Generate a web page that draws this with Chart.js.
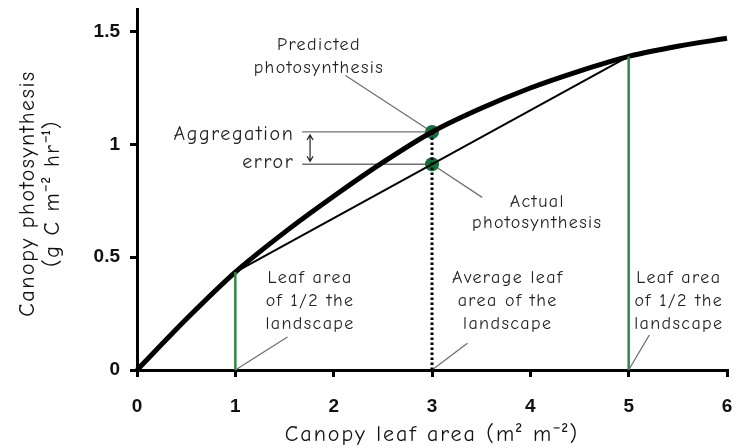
<!DOCTYPE html>
<html>
<head>
<meta charset="utf-8">
<script src="https://cdn.jsdelivr.net/npm/chart.js@4"></script>
<style>
  html, body { margin: 0; background: #fff; }
  #wrap { width: 741px; height: 448px; }
</style>
</head>
<body>
<div id="wrap"><canvas id="chart"></canvas></div>
<script>
// values
const leafArea = [0, 0.5, 1, 1.5, 2, 2.5, 3, 3.5, 4, 4.5, 5, 5.5, 6];
const photosynthesis = [0, 0.225, 0.434, 0.61, 0.77, 0.92, 1.055, 1.16, 1.25, 1.325, 1.39, 1.435, 1.47];
const patchLeafArea = [1, 5];
const patchPhotosynthesis = [0.434, 1.39];
const meanLeafArea = 3;
const predictedValue = 1.055;
const actualValue = 0.912;
const xTicks = [0, 1, 2, 3, 4, 5, 6];
const yTicks = [0, 0.5, 1, 1.5];

const comic = '"Comic Sans MS", "Comic Neue", "Open Sans", sans-serif';
const green = '#2e8b46';
const dotGreen = '#16703a';

const pts = (xs, ys) => xs.map((v, i) => ({ x: v, y: ys[i] }));

// leader lines, the error arrow, annotation text and axis titles
const notes = {
  id: 'notes',
  beforeDatasetsDraw(chart) {
    const { ctx, scales: { x, y } } = chart;
    const seg = (x1, y1, x2, y2) => {
      ctx.beginPath();
      ctx.moveTo(x.getPixelForValue(x1), y.getPixelForValue(y1));
      ctx.lineTo(x.getPixelForValue(x2), y.getPixelForValue(y2));
      ctx.stroke();
    };
    ctx.save();
    ctx.strokeStyle = '#707070';
    ctx.lineWidth = 1.3;
    seg(2.12, 1.305, meanLeafArea, predictedValue);
    seg(1.68, predictedValue, meanLeafArea, predictedValue);
    seg(1.68, actualValue, meanLeafArea, actualValue);
    seg(meanLeafArea, actualValue, 3.51, 0.765);
    seg(1, 0, 1.53, 0.146);
    seg(3, 0, 3.36, 0.119);
    seg(5, 0, 5.21, 0.155);
    // double arrow for aggregation error
    const ax = x.getPixelForValue(1.76);
    const top = y.getPixelForValue(predictedValue) + 3;
    const bot = y.getPixelForValue(actualValue) - 3;
    ctx.strokeStyle = '#222';
    ctx.lineWidth = 1.2;
    ctx.beginPath();
    ctx.moveTo(ax, top); ctx.lineTo(ax, bot);
    ctx.moveTo(ax - 3, top + 5); ctx.lineTo(ax, top); ctx.lineTo(ax + 3, top + 5);
    ctx.moveTo(ax - 3, bot - 5); ctx.lineTo(ax, bot); ctx.lineTo(ax + 3, bot - 5);
    ctx.stroke();
    ctx.restore();
  },
  afterDraw(chart) {
    const { ctx, chartArea: a, scales: { x, y } } = chart;
    const text = (str, vx, vy, align) => {
      ctx.textAlign = align || 'center';
      ctx.fillText(str, x.getPixelForValue(vx), y.getPixelForValue(vy));
    };
    ctx.save();
    ctx.fillStyle = '#222';
    ctx.textBaseline = 'middle';
    ctx.font = '18px ' + comic;
    ctx.letterSpacing = '1.4px';
    text('Predicted', 1.85, 1.44);
    text('photosynthesis', 1.85, 1.34);
    text('Actual', 4.07, 0.745);
    text('photosynthesis', 4.07, 0.65);
    ctx.font = '20px ' + comic;
    ctx.letterSpacing = '1.6px';
    text('Aggregation', 1.6, 1.045, 'right');
    text('error', 1.6, 0.92, 'right');
    ctx.font = '18px ' + comic;
    ctx.letterSpacing = '1.4px';
    [[1.76, 'Leaf area', 'of 1/2 the', 'landscape'],
     [3.77, 'Average leaf', 'area of the', 'landscape'],
     [5.51, 'Leaf area', 'of 1/2 the', 'landscape']].forEach(b => {
      text(b[1], b[0], 0.41);
      text(b[2], b[0], 0.308);
      text(b[3], b[0], 0.206);
    });
    // axis titles
    ctx.font = '22px ' + comic;
    ctx.letterSpacing = '2px';
    ctx.textAlign = 'center';
    ctx.fillStyle = '#111';
    ctx.fillText('Canopy leaf area (m² m⁻²)', (a.left + a.right) / 2, 435);
    ctx.translate(0, (a.top + a.bottom) / 2 + 4);
    ctx.rotate(-Math.PI / 2);
    ctx.letterSpacing = '1.6px';
    ctx.fillText('Canopy photosynthesis', 0, 28);
    ctx.fillText('(g C m⁻² hr⁻¹)', 0, 53);
    ctx.restore();
  }
};

new Chart(document.getElementById('chart'), {
  type: 'scatter',
  data: {
    datasets: [
      { data: pts([1, 1], [0, patchPhotosynthesis[0]]), showLine: true, borderColor: green, borderWidth: 2.5, pointRadius: 0 },
      { data: pts([5, 5], [0, patchPhotosynthesis[1]]), showLine: true, borderColor: green, borderWidth: 2.5, pointRadius: 0 },
      { data: pts([meanLeafArea, meanLeafArea], [0, predictedValue]), showLine: true, borderColor: '#000', borderWidth: 3, borderDash: [2.5, 2.5], pointRadius: 0 },
      { data: pts(patchLeafArea, patchPhotosynthesis), showLine: true, borderColor: '#000', borderWidth: 2, pointRadius: 0 },
      { data: pts(leafArea, photosynthesis), showLine: true, borderColor: '#000', borderWidth: 5, pointRadius: 0, cubicInterpolationMode: 'monotone', clip: false },
      { data: pts([meanLeafArea, meanLeafArea], [predictedValue, actualValue]), showLine: false, pointRadius: 7, pointBackgroundColor: dotGreen, pointBorderColor: dotGreen, pointBorderWidth: 0 }
    ]
  },
  options: {
    responsive: true,
    maintainAspectRatio: false,
    animation: false,
    events: [],
    layout: { padding: 0 },
    plugins: { legend: { display: false }, tooltip: { enabled: false } },
    scales: {
      x: {
        type: 'linear', min: 0, max: 6,
        afterBuildTicks: s => { s.ticks = xTicks.map(v => ({ value: v })); },
        afterFit: s => { s.height = 78; s.paddingLeft = 0; s.paddingRight = 14; },
        border: { color: '#000', width: 3 },
        grid: { drawOnChartArea: false, drawTicks: true, tickLength: 7, color: '#000', lineWidth: 3 },
        ticks: { color: '#111', padding: 18, font: { family: '"Liberation Sans", Arial, sans-serif', size: 19, weight: 'bold' }, callback: v => String(v) }
      },
      y: {
        type: 'linear', min: 0, max: 1.6,
        afterBuildTicks: s => { s.ticks = yTicks.map(v => ({ value: v })); },
        afterFit: s => { s.width = 137; s.paddingTop = 9; s.paddingBottom = 0; },
        border: { color: '#000', width: 3 },
        grid: { drawOnChartArea: false, drawTicks: true, tickLength: 7, color: '#000', lineWidth: 3 },
        ticks: { color: '#111', padding: 10, font: { family: '"Liberation Sans", Arial, sans-serif', size: 19, weight: 'bold' }, callback: v => String(v) }
      }
    }
  },
  plugins: [notes]
});
</script>
</body>
</html>
